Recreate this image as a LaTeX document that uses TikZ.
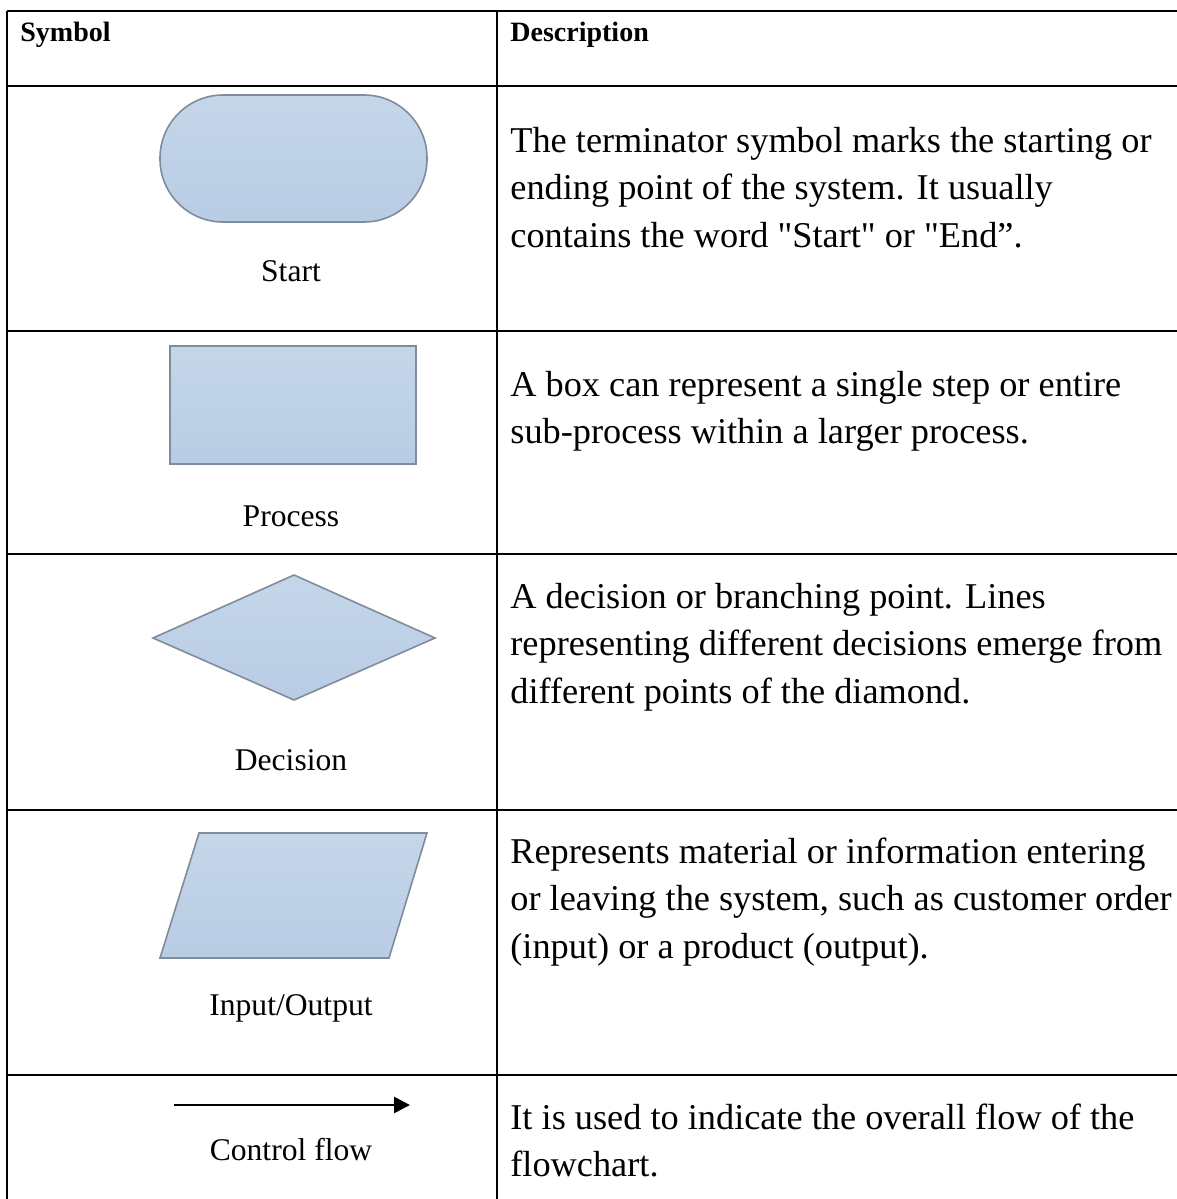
\documentclass[tikz,border=0pt]{standalone}
\usepackage{fontspec}
\setmainfont{Liberation Serif}[Ligatures=TeXOff]
\usetikzlibrary{arrows.meta}
\definecolor{shapefill}{RGB}{184,204,228}
\definecolor{shapetop}{RGB}{197,214,233}
\definecolor{shapeedge}{RGB}{128,140,155}
\begin{document}
\begin{tikzpicture}[x=0.5pt,y=-0.5pt,
  grid/.style={line width=1.3pt,black},
  symshape/.style={draw=shapeedge,line width=0.8pt,top color=shapetop,bottom color=shapefill},
  desc/.style={anchor=base west,inner sep=0pt,font=\fontsize{18.15}{23.75}\selectfont},
  symlabel/.style={anchor=base,inner sep=0pt,font=\fontsize{15.8}{20}\selectfont},
  head/.style={anchor=base west,inner sep=0pt,font=\fontsize{14}{18}\selectfont\bfseries}]
\useasboundingbox (0,0) rectangle (1177,1199);
\fill[white] (0,0) rectangle (1177,1199);

% table rules
\draw[grid] (7,11) -- (1177,11);
\draw[grid] (7,86) -- (1177,86);
\draw[grid] (7,331) -- (1177,331);
\draw[grid] (7,554) -- (1177,554);
\draw[grid] (7,810) -- (1177,810);
\draw[grid] (7,1075) -- (1177,1075);
\draw[grid] (7,11) -- (7,1199);
\draw[grid] (497,11) -- (497,1199);

% header
\node[head] (hsym) at (20,41) {Symbol};
\node[head] (hdesc) at (510,41) {Description};

% terminator
\draw[symshape,rounded corners=31.5pt] (160,95) rectangle (427,222);
\node[symlabel] (lstart) at (291,281) {Start};
\node[desc] (d1a) at (510,152) {The terminator symbol marks the starting or};
\node[desc] (d1b) at (510,199.5) {ending point of the system. It usually};
\node[desc] (d1c) at (510,247) {contains the word "Start" or "End”.};

% process
\draw[symshape] (170,346) rectangle (416,464);
\node[symlabel] (lproc) at (291,526) {Process};
\node[desc] (d2a) at (510,396) {A box can represent a single step or entire};
\node[desc] (d2b) at (510,443.5) {sub-process within a larger process.};

% decision
\draw[symshape] (294,575) -- (435,638) -- (294,700) -- (153,638) -- cycle;
\node[symlabel] (ldec) at (291,770) {Decision};
\node[desc] (d3a) at (510,608) {A decision or branching point. Lines};
\node[desc] (d3b) at (510,655.5) {representing different decisions emerge from};
\node[desc] (d3c) at (510,703) {different points of the diamond.};

% input / output
\draw[symshape] (199,833) -- (427,833) -- (389,958) -- (160,958) -- cycle;
\node[symlabel] (lio) at (291,1015) {Input/Output};
\node[desc] (d4a) at (510,863) {Represents material or information entering};
\node[desc] (d4b) at (510,910.5) {or leaving the system, such as customer order};
\node[desc] (d4c) at (510,958) {(input) or a product (output).};

% control flow
\coordinate (cfa) at (174,1105);
\coordinate (cfb) at (410,1105);
\draw[line width=1.3pt,-{Triangle[length=8pt,width=8pt]}] (cfa) -- (cfb);
\node[symlabel] (lflow) at (291,1160) {Control flow};
\node[desc] (d5a) at (510,1129) {It is used to indicate the overall flow of the};
\node[desc] (d5b) at (510,1176.5) {flowchart.};
\end{tikzpicture}
\end{document}
